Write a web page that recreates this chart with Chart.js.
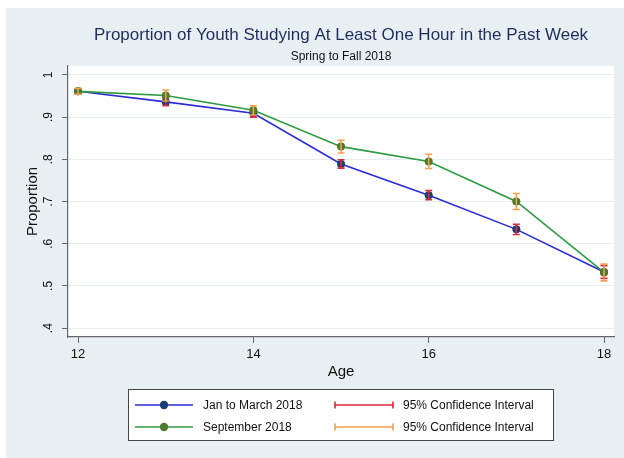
<!DOCTYPE html>
<html>
<head>
<meta charset="utf-8">
<script src="https://cdn.jsdelivr.net/npm/chart.js@4/dist/chart.umd.min.js"></script>
<style>
  html, body { margin: 0; padding: 0; background: #ffffff; }
  #wrap { width: 624px; height: 458px; }
</style>
</head>
<body>
<div id="wrap"><canvas id="chart" width="624" height="458"></canvas></div>
<script>
// Ages surveyed
const ages = [12, 13, 14, 15, 16, 17, 18];

// Jan to March 2018: proportion and 95% CI bounds
const janMar   = [0.961, 0.936, 0.909, 0.789, 0.715, 0.634, 0.533];
const janMarLo = [0.955, 0.927, 0.900, 0.779, 0.704, 0.622, 0.518];
const janMarHi = [0.967, 0.945, 0.918, 0.799, 0.726, 0.646, 0.548];

// September 2018: proportion and 95% CI bounds
const sept   = [0.961, 0.951, 0.916, 0.830, 0.795, 0.700, 0.532];
const septLo = [0.954, 0.938, 0.905, 0.815, 0.778, 0.681, 0.512];
const septHi = [0.968, 0.964, 0.927, 0.845, 0.812, 0.719, 0.552];

// Axis ticks
const yTicks = [0.4, 0.5, 0.6, 0.7, 0.8, 0.9, 1];
const xTicks = [12, 14, 16, 18];

const FONT = "'Liberation Sans', Arial, Helvetica, sans-serif";
const BG = '#e8eff2';

// ".4" style labels, "1" for one
function propLabel(v) {
  const s = (Math.round(v * 10) / 10).toString();
  return s.startsWith('0') ? s.slice(1) : s;
}

// Graph region and white plot region
const backdrop = {
  id: 'backdrop',
  beforeDraw(chart) {
    const { ctx, chartArea: a } = chart;
    ctx.save();
    ctx.fillStyle = '#ffffff';
    ctx.fillRect(0, 0, chart.width, chart.height);
    ctx.fillStyle = BG;
    ctx.fillRect(6, 8, chart.width - 6, chart.height - 8);
    ctx.fillStyle = '#ffffff';
    ctx.fillRect(a.left, a.top, a.right - a.left, a.bottom - a.top);
    ctx.restore();
  }
};

// Capped confidence-interval bars, drawn right after their own series
const ciBars = {
  id: 'ciBars',
  afterDatasetDraw(chart, args) {
    const ds = chart.data.datasets[args.index];
    if (!ds.ciLow) return;
    const { ctx } = chart;
    const xs = chart.scales.x, ys = chart.scales.y;
    const cap = 3.5;
    ctx.save();
    ctx.strokeStyle = ds.ciColor;
    ctx.lineWidth = 1.6;
    ds.data.forEach((p, i) => {
      const x = xs.getPixelForValue(p.x);
      const y1 = ys.getPixelForValue(ds.ciLow[i]);
      const y2 = ys.getPixelForValue(ds.ciHigh[i]);
      ctx.beginPath();
      ctx.moveTo(x, y1); ctx.lineTo(x, y2);
      ctx.moveTo(x - cap, y1); ctx.lineTo(x + cap, y1);
      ctx.moveTo(x - cap, y2); ctx.lineTo(x + cap, y2);
      ctx.stroke();
    });
    ctx.restore();
  }
};

// Titles and the boxed two-column legend
const header = {
  id: 'header',
  afterDraw(chart) {
    const { ctx, chartArea: a } = chart;
    const cx = (a.left + a.right) / 2;
    ctx.save();
    ctx.textAlign = 'center';
    ctx.textBaseline = 'middle';
    ctx.fillStyle = '#1f2d5c';
    ctx.font = '17px ' + FONT;
    ctx.fillText('Proportion of Youth Studying At Least One Hour in the Past Week', cx, 35);
    ctx.fillStyle = '#111111';
    ctx.font = '12px ' + FONT;
    ctx.fillText('Spring to Fall 2018', cx, 57);

    // legend box
    ctx.fillStyle = '#ffffff';
    ctx.fillRect(128.5, 389.5, 425, 51);
    ctx.strokeStyle = '#444444';
    ctx.lineWidth = 1;
    ctx.strokeRect(128.5, 389.5, 425, 51);

    ctx.textAlign = 'left';
    ctx.font = '12px ' + FONT;
    chart.data.datasets.forEach((ds, i) => {
      const y = 405 + i * 22;
      // series key
      ctx.strokeStyle = ds.borderColor;
      ctx.lineWidth = 1.6;
      ctx.beginPath(); ctx.moveTo(135, y); ctx.lineTo(193, y); ctx.stroke();
      ctx.fillStyle = ds.pointBackgroundColor;
      ctx.beginPath(); ctx.arc(164, y, 4.2, 0, Math.PI * 2); ctx.fill();
      ctx.fillStyle = '#111111';
      ctx.fillText(ds.label, 203, y + 1);
      // CI key
      ctx.strokeStyle = ds.ciColor;
      ctx.beginPath();
      ctx.moveTo(335, y); ctx.lineTo(393, y);
      ctx.moveTo(335, y - 3.5); ctx.lineTo(335, y + 3.5);
      ctx.moveTo(393, y - 3.5); ctx.lineTo(393, y + 3.5);
      ctx.stroke();
      ctx.fillStyle = '#111111';
      ctx.fillText(ds.ciLabel, 403, y + 1);
    });
    ctx.restore();
  }
};

const toPoints = vals => vals.map((v, i) => ({ x: ages[i], y: v }));

new Chart(document.getElementById('chart'), {
  type: 'line',
  data: {
    datasets: [
      {
        label: 'Jan to March 2018',
        data: toPoints(janMar),
        ciLow: janMarLo, ciHigh: janMarHi,
        ciColor: '#e0283c', ciLabel: '95% Confidence Interval',
        borderColor: '#2a2ad6', borderWidth: 1.6,
        pointBackgroundColor: '#1b3f6e', pointBorderColor: '#1b3f6e',
        pointRadius: 4, pointBorderWidth: 0,
        tension: 0, order: 2
      },
      {
        label: 'September 2018',
        data: toPoints(sept),
        ciLow: septLo, ciHigh: septHi,
        ciColor: '#f2a04e', ciLabel: '95% Confidence Interval',
        borderColor: '#2e9a40', borderWidth: 1.6,
        pointBackgroundColor: '#4e7a2c', pointBorderColor: '#4e7a2c',
        pointRadius: 4, pointBorderWidth: 0,
        tension: 0, order: 1
      }
    ]
  },
  options: {
    responsive: false,
    animation: false,
    events: [],
    layout: { padding: { left: 6, top: 66, right: 10, bottom: 76 } },
    plugins: {
      legend: { display: false },
      title: { display: false },
      tooltip: { enabled: false }
    },
    scales: {
      x: {
        type: 'linear',
        min: 11.885, max: 18.114,
        afterBuildTicks: s => { s.ticks = xTicks.map(v => ({ value: v })); },
        afterFit: s => { s.height = 45; },
        ticks: {
          autoSkip: false, maxRotation: 0, padding: 4,
          color: '#111111', font: { family: FONT, size: 13 },
          callback: v => String(v)
        },
        grid: { drawOnChartArea: false, drawTicks: true, tickLength: 6, tickColor: '#666666', tickWidth: 1 },
        border: { color: '#666666', width: 1.2 },
        title: {
          display: true, text: 'Age', color: '#111111',
          font: { family: FONT, size: 15 }, padding: { top: 0, bottom: 1 }
        }
      },
      y: {
        type: 'linear',
        min: 0.379, max: 1.021,
        afterBuildTicks: s => { s.ticks = yTicks.map(v => ({ value: v })); },
        afterFit: s => { s.width = 62; },
        ticks: {
          minRotation: 90, maxRotation: 90, crossAlign: 'center', padding: 8,
          color: '#111111', font: { family: FONT, size: 12 },
          callback: v => propLabel(v)
        },
        grid: { color: '#e6eef1', lineWidth: 1, drawTicks: true, tickLength: 6, tickColor: '#666666', tickWidth: 1 },
        border: { color: '#666666', width: 1.2 },
        title: {
          display: true, text: 'Proportion', color: '#111111',
          font: { family: FONT, size: 15 }, padding: { top: 18, bottom: 0 }
        }
      }
    }
  },
  plugins: [backdrop, ciBars, header]
});
</script>
</body>
</html>
